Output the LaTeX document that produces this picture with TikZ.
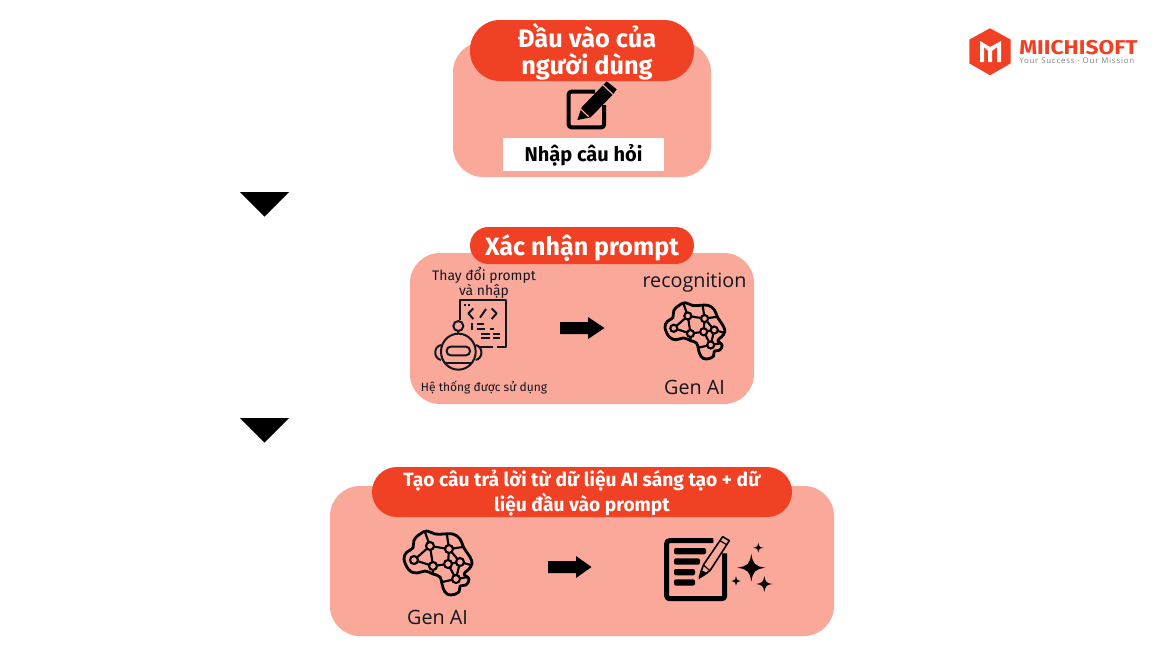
\documentclass[tikz,border=0pt]{standalone}
\usepackage{fontspec}
\setmainfont{Fira Sans}
\newfontfamily\lightfont{Open Sans}
\definecolor{panelc}{HTML}{F9A899}
\definecolor{pillc}{HTML}{F04124}
\definecolor{inkc}{HTML}{15151F}
\newcommand{\fs}[2]{\fontsize{#1}{#2}\selectfont}
\tikzset{
  panel/.style={fill=panelc,rounded corners=22.5pt,draw=none},
  pill/.style={fill=pillc,draw=none},
  headtext/.style={text=white,align=center,font=\bfseries},
  lighttext/.style={text=inkc,align=center,inner sep=0pt},
  solidblack/.style={fill=black,draw=none},
  brain/.pic={
    \draw[line width=2.1pt,line join=round] plot[smooth cycle,tension=0.7] coordinates {
      (-33,-3) (-30,-10) (-24,-14) (-23,-22) (-17,-28) (-10,-31) (-2,-28) (7,-28) (16,-28) (23,-23) (27,-14) (33,-5) (35,2) (31,8) (27,12) (32,17) (29,23) (23,24) (22,30) (14,33) (8,30) (5,22) (3,15) (-4,12) (-12,9) (-20,11) (-28,8)};
    \draw[line width=1.6pt,line cap=round] (-7,-16) -- (12,-13) (-7,-16) -- (-23,-2) (-7,-16) -- (-4,4)
      (12,-13) -- (11,2) (12,-13) -- (23,0) (-23,-2) -- (-4,4) (-4,4) -- (11,2) (11,2) -- (23,0)
      (11,2) -- (19,17) (23,0) -- (19,17) (-7,-16) -- (-12,-30) (12,-13) -- (10,-27) (23,0) -- (34,3)
      (-4,4) -- (-4,12) (19,17) -- (31,15) (19,17) -- (5,20) (12,-13) -- (26,-15);
    \foreach \p in {(-7,-16),(12,-13),(-23,-2),(-4,4),(11,2),(23,0),(19,17)}
      \draw[line width=1.6pt,fill=panelc] \p circle[radius=4];
  },
  sparkle/.pic={
    \fill[black] (0,-1) .. controls (0.12,-0.25) and (0.25,-0.12) .. (1,0)
      .. controls (0.25,0.12) and (0.12,0.25) .. (0,1)
      .. controls (-0.12,0.25) and (-0.25,0.12) .. (-1,0)
      .. controls (-0.25,-0.12) and (-0.12,-0.25) .. (0,-1) -- cycle;
  }
}
\begin{document}
\begin{tikzpicture}[x=0.75pt,y=-0.75pt]
\useasboundingbox (0,0) rectangle (1164,654);
\fill[white] (0,0) rectangle (1164,654);

% panels
\fill[panel] (453,42) rectangle (711,177);
\fill[panel] (410,253) rectangle (754,404);
\fill[panel] (330,486) rectangle (834,636);

% pills
\fill[pill,rounded corners=22.5pt] (470,20) rectangle (694,81);
\fill[pill,rounded corners=13.8pt] (470,227) rectangle (694,264);
\fill[pill,rounded corners=18.7pt] (372,467) rectangle (792,517);

% header text
\node[headtext,font=\bfseries\fs{19}{20.5}] (h1) at (587,52) {Đầu vào của\\người dùng};
\node[headtext,font=\bfseries\fs{18.8}{21}] (h2) at (582,248) {Xác nhận prompt};
\node[headtext,font=\bfseries\fs{14.4}{15.5}] (h3) at (582,493) {Tạo câu trả lời từ dữ liệu AI sáng tạo + dữ\\liệu đầu vào prompt};

% white label
\fill[white] (503,138) rectangle (664,171);
\node[font=\bfseries\fs{15}{16},text=black,inner sep=0pt] (q) at (583.5,155.5) {Nhập câu hỏi};

% edit icon
\begin{scope}[shift={(400,0)},x=0.25pt,y=-0.25pt]
  \draw[line width=3pt,line join=round,rounded corners=2pt] (612,315) -- (612,382) -- (506,382) -- (506,275) -- (585,275);
  \fill[black] (532,360) -- (545,322) -- (620,244) -- (650,268) -- (640,282) -- (572,352) -- cycle;
  \draw[panelc,line width=0.9pt] (608,254) -- (640,284);
  \draw[panelc,line width=0.9pt] (543,328) -- (566,350);
\end{scope}

% triangles
\fill[solidblack] (240,192) -- (289,192) -- (264.5,216.5) -- cycle;
\fill[solidblack] (240,418) -- (289,418) -- (264.5,442.5) -- cycle;

% block arrows
\fill[solidblack] (560,322) -- (588,322) -- (588,317) -- (604.5,328) -- (588,339) -- (588,334) -- (560,334) -- cycle;
\fill[solidblack] (548,561) -- (576,561) -- (576,556) -- (591.5,567) -- (576,578) -- (576,573) -- (548,573) -- cycle;

% panel 2 texts
\node[lighttext,font=\fs{10.4}{11.3}] (t1) at (484,283) {Thay đổi prompt\\và nhập};
\node[lighttext,font=\fs{9}{11}] (t2) at (484,387) {Hệ thống được sử dụng};
\node[lighttext,font=\lightfont\fs{14.8}{16}] (t3) at (694.5,283) {recognition};
\node[lighttext,font=\lightfont\fs{14.8}{16}] (t4) at (694.5,387) {Gen AI};
\node[lighttext,font=\lightfont\fs{14.8}{16}] (t5) at (437.5,617) {Gen AI};

% robot icon
\begin{scope}[shift={(425,295)},x=0.25pt,y=-0.25pt,line width=1.5pt,line join=round,draw=inkc]
  \draw (105,75) -- (105,15) -- (243,15) -- (243,155) -- (215,155);
  \draw (205,155) -- (165,155);
  \draw (118,30) -- (124,30) (130,30) -- (136,30);
  \draw (145,40) -- (130,55) -- (145,72);
  \draw (200,40) -- (215,55) -- (200,72);
  \draw (165,68) -- (183,42);
  \draw (140,84) -- (140,106) (155,88) -- (178,88) (155,101) -- (180,101) (195,101) -- (208,101)
    (167,117) -- (195,117) (205,117) -- (225,117) (167,130) -- (195,130) (205,130) -- (225,130);
  \draw (100,93) circle[radius=15];
  \draw (100,108) -- (100,118);
  \draw (48,150) .. controls (25,155) and (25,190) .. (48,195);
  \draw (152,150) .. controls (175,155) and (175,190) .. (152,195);
  \draw (100,170) ellipse[x radius=52,y radius=54];
  \draw[rounded corners=3pt] (65,155) rectangle (135,181);
  \draw (58,205) -- (142,205);
\end{scope}

% brains
\pic[scale=0.88] at (694,330) {brain};
\pic at (437,562) {brain};

% document + pencil icon
\begin{scope}[shift={(370,520)},x=0.25pt,y=-0.25pt]
  \draw[line width=3.7pt,line join=round,rounded corners=2pt] (1064,100) -- (1064,236) -- (890,236) -- (890,62) -- (1030,62);
  \fill[black,rounded corners=1.5pt] (912,84) rectangle (1008,103);
  \fill[black,rounded corners=1.5pt] (912,115) rectangle (990,134);
  \fill[black,rounded corners=1.5pt] (912,147) rectangle (975,166);
  \fill[black,rounded corners=1.5pt] (912,178) rectangle (975,197);
  \draw[line width=1.2pt,fill=panelc,line join=round] (988,172) -- (1000,135) -- (1058,50) -- (1078,62) -- (1020,152) -- cycle;
  \fill[black] (986,178) -- (992,150) -- (1014,160) -- cycle;
  \draw[line width=0.9pt] (1000,135) -- (1020,152);
  \draw[line width=0.9pt] (1050,62) -- (1070,74);
\end{scope}
\pic[scale=14] at (751.3,567.7) {sparkle};
\pic[scale=8] at (764.3,584) {sparkle};
\pic[scale=5] at (736,581) {sparkle};
\pic[scale=5] at (758.3,547.7) {sparkle};

% logo
\fill[pillc,line join=round,draw=pillc,line width=1pt] (990,29) -- (1010,40) -- (1010,63) -- (990,74.5) -- (970,63) -- (970,40) -- cycle;
\fill[white] (980,62) -- (980,41) -- (990,47) -- (1001,41) -- (1001,62) -- (997,62) -- (997,47) -- (992,51) -- (992,62) -- (988,62) -- (988,51) -- (984,47) -- (984,62) -- cycle;
\node[anchor=west,inner sep=0pt,text=pillc,font=\bfseries\fs{15}{16}\addfontfeature{FakeStretch=1.14}] (l1) at (1019,47.5) {MIICHISOFT};
\node[anchor=west,inner sep=0pt,text=black!50,font=\lightfont\fs{5.9}{7}\addfontfeature{LetterSpace=10}] (l2) at (1019,60.5) {Your Success - Our Mission};
\end{tikzpicture}
\end{document}
